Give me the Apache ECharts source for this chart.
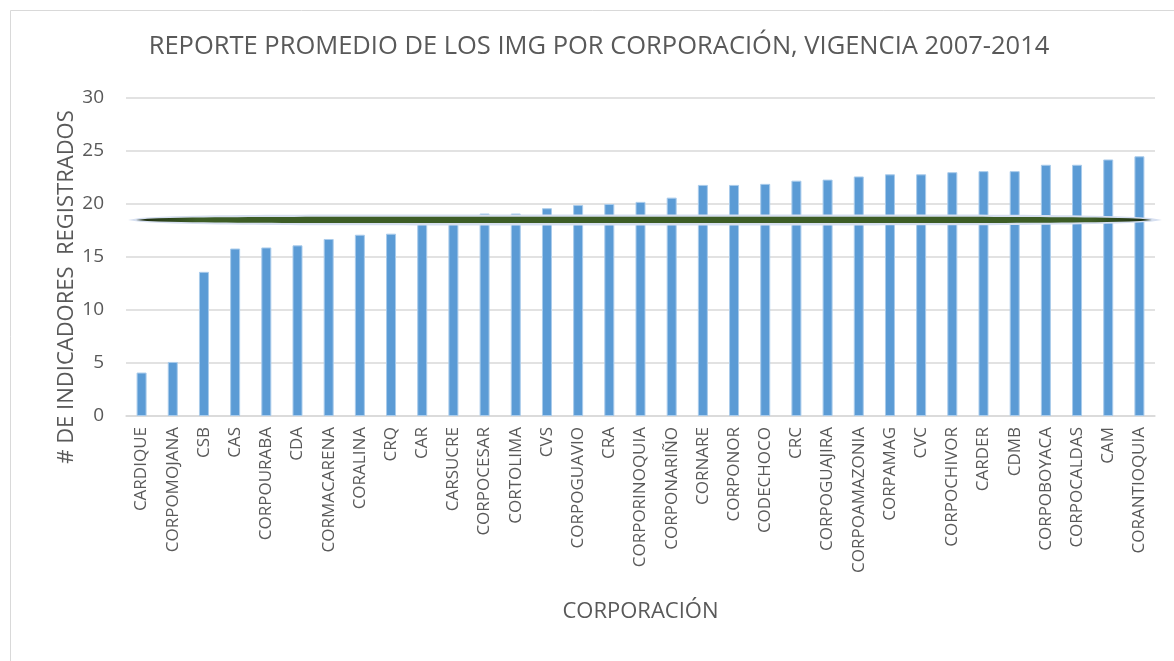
<!DOCTYPE html>
<html>
<head>
<meta charset="utf-8">
<title>Reporte promedio IMG</title>
<script src="https://cdn.jsdelivr.net/npm/echarts@6/dist/echarts.min.js"></script>
<style>
  html, body { margin: 0; padding: 0; background: #fff; }
  #myChart { width: 1174px; height: 661px; }
</style>
</head>
<body>
<div id="myChart"></div>
<script>
// corporaciones, ordenadas de menor a mayor
var corporaciones = [
  "CARDIQUE", "CORPOMOJANA", "CSB", "CAS", "CORPOURABA", "CDA", "CORMACARENA",
  "CORALINA", "CRQ", "CAR", "CARSUCRE", "CORPOCESAR", "CORTOLIMA", "CVS",
  "CORPOGUAVIO", "CRA", "CORPORINOQUIA", "CORPONARIÑO", "CORNARE", "CORPONOR",
  "CODECHOCO", "CRC", "CORPOGUAJIRA", "CORPOAMAZONIA", "CORPAMAG", "CVC",
  "CORPOCHIVOR", "CARDER", "CDMB", "CORPOBOYACA", "CORPOCALDAS", "CAM", "CORANTIOQUIA"
];
var promedios = [
  4.1, 5.1, 13.6, 15.8, 15.9, 16.1, 16.7,
  17.1, 17.2, 18.3, 18.5, 19.1, 19.1, 19.6,
  19.9, 20.0, 20.2, 20.6, 21.8, 21.8,
  21.9, 22.2, 22.3, 22.6, 22.8, 22.8,
  23.0, 23.1, 23.1, 23.7, 23.7, 24.2, 24.5
];
// promedio general (la elipse verde)
var promedioGeneral = [18.5];
var ticksY = [0, 5, 10, 15, 20, 25, 30];

var myChart = echarts.init(document.getElementById("myChart"));

// forma alargada con puntas finas, como la del original
function puntosForma(cx, cy, rx, ry) {
  var pts = [], n = 90, i, t, h;
  for (i = 0; i <= n; i++) {
    t = -1 + (2 * i) / n;
    h = ry * Math.sqrt(Math.max(0, 1 - Math.pow(Math.abs(t), 6)));
    pts.push([cx + rx * t, cy - h]);
  }
  for (i = n; i >= 0; i--) {
    t = -1 + (2 * i) / n;
    h = ry * Math.sqrt(Math.max(0, 1 - Math.pow(Math.abs(t), 6)));
    pts.push([cx + rx * t, cy + h]);
  }
  return pts;
}

var option = {
  animation: false,
  backgroundColor: "#fff",
  title: {
    text: "REPORTE PROMEDIO DE LOS IMG POR CORPORACIÓN, VIGENCIA 2007-2014",
    left: 594,
    top: 29,
    textAlign: "center",
    textStyle: {
      fontFamily: "Open Sans",
      fontWeight: "normal",
      fontSize: 25.5,
      color: "#595959"
    }
  },
  graphic: [
    {
      type: "rect",
      left: 8,
      top: 8,
      shape: { width: 1200, height: 700 },
      style: { fill: "none", stroke: "#D9D9D9", lineWidth: 1 },
      silent: true
    },
    {
      type: "text",
      x: 67,
      y: 287,
      rotation: Math.PI / 2,
      style: {
        text: "# DE INDICADORES  REGISTRADOS",
        fontFamily: "Open Sans",
        fontSize: 22,
        fill: "#595959",
        align: "center",
        verticalAlign: "middle"
      }
    }
  ],
  grid: {
    left: 126,
    right: 19,
    top: 98,
    bottom: 245
  },
  xAxis: {
    type: "category",
    data: corporaciones,
    name: "CORPORACIÓN",
    nameLocation: "middle",
    nameGap: 185,
    nameTextStyle: {
      fontFamily: "Open Sans",
      fontSize: 22,
      color: "#595959"
    },
    axisLine: { lineStyle: { color: "#D9D9D9", width: 1.5 } },
    axisTick: { show: false },
    axisLabel: {
      interval: 0,
      rotate: 90,
      margin: 11,
      fontFamily: "Open Sans",
      fontSize: 17,
      color: "#595959"
    }
  },
  yAxis: {
    type: "value",
    min: ticksY[0],
    max: ticksY[ticksY.length - 1],
    interval: 5,
    axisLine: { show: false },
    axisTick: { show: false },
    axisLabel: {
      margin: 22,
      fontFamily: "Open Sans",
      fontSize: 19,
      color: "#595959"
    },
    splitLine: { lineStyle: { color: "#D9D9D9", width: 1.5 } }
  },
  series: [
    {
      name: "Promedio",
      type: "bar",
      data: promedios,
      barWidth: 10,
      itemStyle: {
        color: "#5B9BD5",
        borderColor: "#A9CBEB",
        borderWidth: 1
      }
    },
    {
      name: "Promedio general",
      type: "custom",
      z: 10,
      data: promedioGeneral.map(function (v) { return [0, v]; }),
      encode: { x: 0, y: 1 },
      renderItem: function (params, api) {
        var cy = api.coord([0, api.value(1)])[1];
        var cs = params.coordSys;
        var izq = cs.x + 2, der = cs.x + cs.width + 7;
        var cx = (izq + der) / 2, rx = (der - izq) / 2;
        return {
          type: "group",
          children: [
            {
              type: "polygon",
              shape: { points: puntosForma(cx, cy, rx, 5.5) },
              style: { fill: "#D6DFF0" }
            },
            {
              type: "polygon",
              shape: { points: puntosForma(cx - 1, cy, rx - 9, 3.2) },
              style: {
                fill: new echarts.graphic.LinearGradient(0, 0, 1, 0, [
                  { offset: 0, color: "#1c2a10" },
                  { offset: 0.06, color: "#3d5d26" },
                  { offset: 0.94, color: "#3d5d26" },
                  { offset: 1, color: "#1c2a10" }
                ])
              }
            }
          ]
        };
      }
    }
  ]
};

myChart.setOption(option);
</script>
</body>
</html>
